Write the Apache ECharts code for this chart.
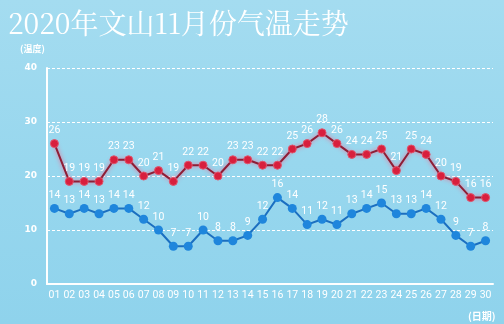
<!DOCTYPE html>
<html><head><meta charset="utf-8">
<script src="https://cdn.jsdelivr.net/npm/echarts@6/dist/echarts.min.js"></script>
<style>html,body{margin:0;padding:0;}#c{width:504px;height:324px;background:linear-gradient(180deg,#a4dcf0 0%,#98d7ee 50%,#8fd3ec 100%);}</style>
</head><body><div id="c"></div>
<script>
const days = ['01','02','03','04','05','06','07','08','09','10','11','12','13','14','15','16','17','18','19','20','21','22','23','24','25','26','27','28','29','30'];
const highTemps = [26,19,19,19,23,23,20,21,19,22,22,20,23,23,22,22,25,26,28,26,24,24,25,21,25,24,20,19,16,16];
const lowTemps = [14,13,14,13,14,14,12,10,7,7,10,8,8,9,12,16,14,11,12,11,13,14,15,13,13,14,12,9,7,8];
const yTicks = [0,10,20,30,40];

const chart = echarts.init(document.getElementById('c'));
chart.setOption({
  animation:false,
  title:[
    {text:'2020年文山11月份气温走势',left:3,top:4,textStyle:{color:'#ffffff',fontSize:28,fontWeight:'normal',fontFamily:'"Noto Serif CJK SC","Noto Sans CJK SC",serif'}},
    {text:'(温度)',left:15,top:39,textStyle:{color:'#ffffff',fontSize:9,fontWeight:'bold',fontFamily:'"Noto Sans CJK SC",sans-serif'}},
    {text:'(日期)',left:463,top:306,textStyle:{color:'#ffffff',fontSize:10,fontWeight:'bold',fontFamily:'"Noto Sans CJK SC",sans-serif'}}
  ],
  grid:{left:47,right:11,top:68,bottom:40},
  xAxis:{
    type:'category',data:days,boundaryGap:true,
    axisLine:{lineStyle:{color:'#ffffff',width:2}},
    axisTick:{alignWithLabel:true,inside:true,length:216,lineStyle:{color:'#ffffff',type:[3,2],width:1}},
    axisLabel:{color:'#ffffff',fontSize:10.5,margin:6,interval:0,fontFamily:'Roboto,sans-serif'},
    splitLine:{show:false}
  },
  yAxis:{
    type:'value',min:yTicks[0],max:yTicks[yTicks.length-1],interval:10,
    axisLine:{show:true,lineStyle:{color:'#ffffff',width:2}},
    axisTick:{show:false},
    axisLabel:{color:'#ffffff',fontSize:9,fontWeight:'bold',margin:10,fontFamily:'"DejaVu Sans",sans-serif'},
    splitLine:{show:true,lineStyle:{color:'#ffffff',type:[3,2],width:1}}
  },
  series:[
    {type:'line',data:highTemps,symbol:'circle',symbolSize:8,
     lineStyle:{color:'#8e1e36',width:2,shadowColor:'rgba(255,90,130,0.9)',shadowBlur:4},
     itemStyle:{color:'#d81f3d',borderColor:'#e0536b',borderWidth:1},
     label:{show:true,position:'top',color:'#ffffff',fontSize:10.5,distance:3,fontFamily:'Roboto,sans-serif'}},
    {type:'line',data:lowTemps,symbol:'circle',symbolSize:9,
     lineStyle:{color:'#1b6fc0',width:2},
     itemStyle:{color:'#1f86dc'},
     label:{show:true,position:'top',color:'#ffffff',fontSize:10.5,distance:3,fontFamily:'Roboto,sans-serif'}}
  ]
});
</script></body></html>
